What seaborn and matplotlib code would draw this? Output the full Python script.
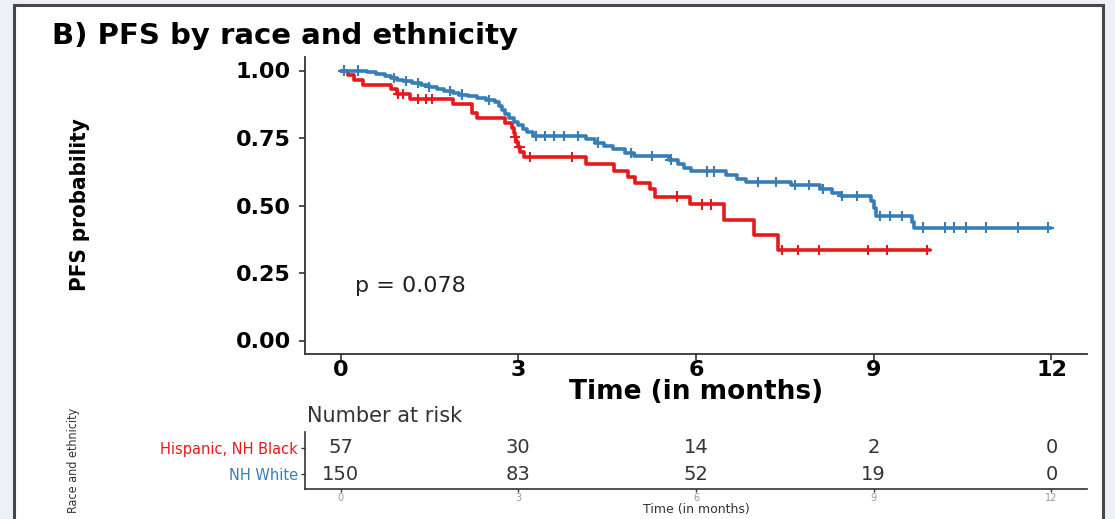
import numpy as np
import pandas as pd
import matplotlib
matplotlib.use("Agg")
import matplotlib.pyplot as plt
import seaborn as sns
from matplotlib.patches import Rectangle

# ---------------- data ----------------
groups = ["Hispanic, NH Black", "NH White"]
colors = ["#E41A1C", "#377EB8"]

red_time = [0, 0.13, 0.22, 0.38, 0.85, 0.95, 1.17, 1.9, 2.22, 2.3, 2.78, 2.9,
            2.93, 2.95, 2.97, 3.0, 3.03, 3.1, 4.15, 4.62, 4.85, 4.97, 5.22, 5.3,
            5.9, 6.47, 6.98, 7.38, 9.95]
red_surv = [1.0, 0.982, 0.965, 0.947, 0.93, 0.912, 0.895, 0.877, 0.842, 0.824,
            0.806, 0.788, 0.77, 0.752, 0.734, 0.716, 0.698, 0.68, 0.653, 0.627,
            0.606, 0.585, 0.56, 0.533, 0.504, 0.448, 0.39, 0.336, 0.336]

blue_time = [0, 0.45, 0.6, 0.75, 0.85, 0.95, 1.05, 1.2, 1.35, 1.5, 1.62, 1.75,
             1.9, 2.0, 2.15, 2.3, 2.45, 2.6, 2.68, 2.72, 2.78, 2.85, 2.92, 3.0,
             3.08, 3.15, 3.25, 4.15, 4.3, 4.45, 4.6, 4.8, 4.95, 5.55, 5.7, 5.8,
             5.92, 6.5, 6.7, 6.85, 7.6, 8.1, 8.3, 8.45, 8.95, 9.0, 9.03, 9.65,
             9.68, 12.0]
blue_surv = [1.0, 0.993, 0.987, 0.98, 0.973, 0.966, 0.96, 0.953, 0.946, 0.939,
             0.932, 0.925, 0.918, 0.911, 0.904, 0.897, 0.89, 0.883, 0.868, 0.855,
             0.84, 0.825, 0.81, 0.797, 0.784, 0.771, 0.758, 0.745, 0.733, 0.72,
             0.708, 0.695, 0.683, 0.67, 0.655, 0.64, 0.626, 0.612, 0.598, 0.588,
             0.575, 0.562, 0.548, 0.535, 0.515, 0.49, 0.46, 0.44, 0.418, 0.418]

red_censor = [0.97, 1.05, 1.3, 1.45, 1.55, 2.95, 3.02, 3.2, 3.9, 5.68, 6.1,
              6.25, 7.45, 7.73, 8.07, 8.9, 9.23, 9.9]
blue_censor = [0.05, 0.3, 0.9, 1.1, 1.3, 1.5, 1.85, 2.05, 2.5, 3.3, 3.45, 3.6,
               3.78, 4.0, 4.35, 4.9, 5.25, 5.57, 6.19, 6.3, 7.04, 7.35, 7.67,
               7.9, 8.15, 8.47, 8.72, 9.11, 9.28, 9.48, 9.84, 10.2, 10.35,
               10.55, 10.9, 11.43, 11.95]

risk_times = [0, 3, 6, 9, 12]
risk_red = [57, 30, 14, 2, 0]
risk_blue = [150, 83, 52, 19, 0]

xticks = [0, 3, 6, 9, 12]
yticks = [0.0, 0.25, 0.5, 0.75, 1.0]
ytick_labels = ["0.00", "0.25", "0.50", "0.75", "1.00"]
title_text = "B) PFS by race and ethnicity"
p_text = "p = 0.078"

# ---------------- frames ----------------
curves = pd.concat([
    pd.DataFrame({"time": red_time, "surv": red_surv, "group": groups[0]}),
    pd.DataFrame({"time": blue_time, "surv": blue_surv, "group": groups[1]}),
], ignore_index=True)


def surv_at(times, t_arr, s_arr):
    t_arr = np.asarray(t_arr)
    s_arr = np.asarray(s_arr)
    idx = np.searchsorted(t_arr, np.asarray(times), side="right") - 1
    return s_arr[idx]


censors = pd.concat([
    pd.DataFrame({"time": red_censor,
                  "surv": surv_at(red_censor, red_time, red_surv),
                  "group": groups[0]}),
    pd.DataFrame({"time": blue_censor,
                  "surv": surv_at(blue_censor, blue_time, blue_surv),
                  "group": groups[1]}),
], ignore_index=True)

# ---------------- style ----------------
sns.set_theme(style="white")
plt.rcParams["font.family"] = ["DejaVu Sans"]

W, H = 1115, 519
fig = plt.figure(figsize=(W / 100, H / 100), dpi=100, facecolor="#edf1f6")
panel = Rectangle((14 / W, -0.02), (1103 - 14) / W, 1.02 - 5 / H,
                  transform=fig.transFigure, facecolor="white",
                  edgecolor="#474747", linewidth=2.2, zorder=-10)
fig.patches.append(panel)

# ---------------- main KM plot ----------------
ax = fig.add_axes([305 / W, 1 - 354 / H, 782 / W, 297 / H])
ax.set_facecolor("none")
sns.lineplot(data=curves, x="time", y="surv", hue="group", palette=colors,
             hue_order=groups, estimator=None, sort=False,
             drawstyle="steps-post", linewidth=2.6, legend=False, ax=ax)
sns.scatterplot(data=censors, x="time", y="surv", hue="group",
                palette=colors, hue_order=groups, marker="+", s=55,
                linewidth=1.5, legend=False, ax=ax, zorder=3)

ax.set_xlim(-0.6, 12.6)
ax.set_ylim(-0.05, 1.05)
ax.set_xticks(xticks)
ax.set_xticklabels([str(v) for v in xticks], fontsize=16, fontweight="bold",
                   color="black")
ax.set_yticks(yticks)
ax.set_yticklabels(ytick_labels, fontsize=16, fontweight="bold",
                   color="black")
ax.tick_params(axis="both", length=4, width=1.2, color="#333333",
               bottom=True, left=True)
ax.tick_params(axis="y", pad=6)
ax.tick_params(axis="x", pad=0.5)
for side in ["top", "right"]:
    ax.spines[side].set_visible(False)
for side in ["left", "bottom"]:
    ax.spines[side].set_color("#333333")
    ax.spines[side].set_linewidth(1.3)
ax.set_xlabel("Time (in months)", fontsize=19, fontweight="bold",
              color="black", labelpad=-1)
ax.set_ylabel("")
ax.text(0.25, 0.2, p_text, fontsize=16, va="center", ha="left",
        color="#222222")

fig.text(52 / W, 1 - 44 / H, title_text, fontsize=21, fontweight="bold",
         va="baseline", ha="left", color="black")
fig.text(80 / W, 1 - 205 / H, "PFS probability", rotation=90, fontsize=16,
         fontweight="bold", fontstretch="condensed", ha="center",
         va="center", color="black")

# ---------------- risk table ----------------
ax2 = fig.add_axes([305 / W, 1 - 489 / H, 782 / W, 57 / H])
ax2.set_facecolor("none")
ax2.set_xlim(-0.6, 12.6)
ax2.set_ylim(-0.55, 1.6)
row_y = [1, 0]
for gi, counts in enumerate([risk_red, risk_blue]):
    for t, n in zip(risk_times, counts):
        ax2.text(t, row_y[gi], str(n), ha="center", va="center",
                 fontsize=14, color="#333333")
ax2.set_yticks(row_y)
ax2.set_yticklabels(groups, fontsize=10.5)
for lab, c in zip(ax2.get_yticklabels(), colors):
    lab.set_color(c)
ax2.set_xticks(xticks)
ax2.set_xticklabels([str(v) for v in xticks], fontsize=7, color="#9a9a9a")
ax2.tick_params(axis="y", length=3, width=1.0, color="#333333", pad=2,
                left=True)
ax2.tick_params(axis="x", length=2, width=1.0, color="#333333", pad=1,
                bottom=True)
for side in ["top", "right"]:
    ax2.spines[side].set_visible(False)
for side in ["left", "bottom"]:
    ax2.spines[side].set_color("#333333")
    ax2.spines[side].set_linewidth(1.2)
ax2.set_xlabel("Time (in months)", fontsize=9, color="#333333", labelpad=0)
ax2.set_ylabel("")
ax2.text(0.003, 1 + 16 / 57, "Number at risk", transform=ax2.transAxes,
         fontsize=15, va="center", ha="left", color="#333333")
fig.text(74 / W, 1 - 460 / H, "Race and ethnicity", rotation=90,
         fontsize=9, fontstretch="condensed", ha="center", va="center",
         color="#333333")

fig.savefig("out.png", dpi=100, facecolor=fig.get_facecolor())
